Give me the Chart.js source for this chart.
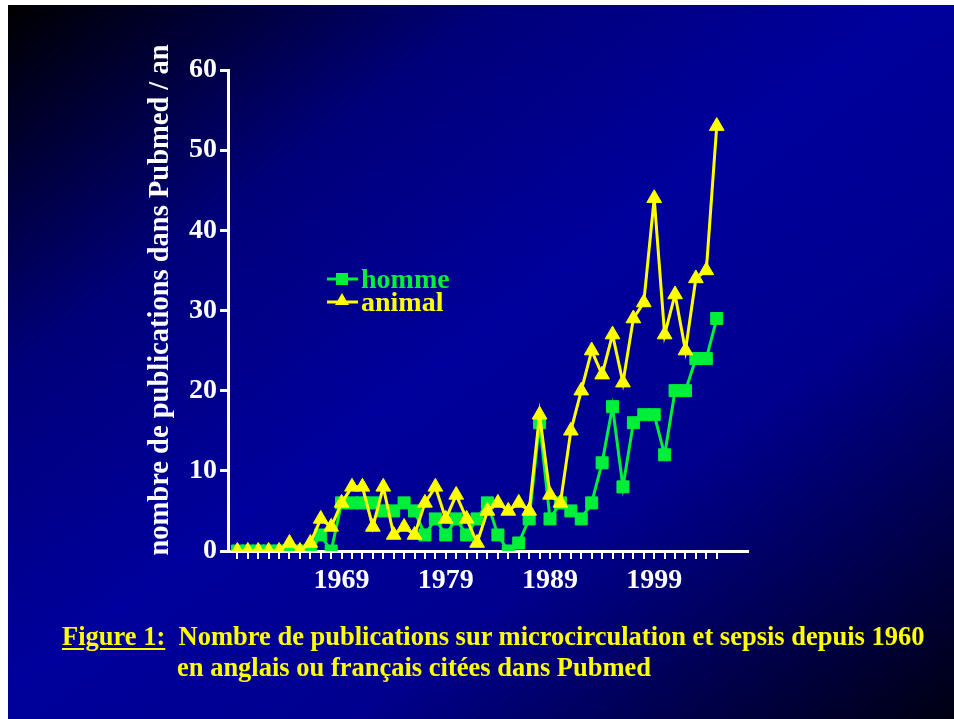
<!DOCTYPE html>
<html>
<head>
<meta charset="utf-8">
<script src="https://cdn.jsdelivr.net/npm/chart.js@4.4.1/dist/chart.umd.min.js"></script>
<style>
  html, body { margin: 0; padding: 0; background: #fff; }
  #slide {
    position: absolute; left: 8px; top: 5px; width: 946px; height: 714px;
    background: linear-gradient(to bottom right, #000000 0%, #00007a 26%, #00009c 48%, #00008e 68%, #000012 100%);
  }
  #wrap { position: absolute; left: 0; top: 0; width: 954px; height: 719px; }
  .caption {
    position: absolute; color: #ffff00; white-space: pre;
    font: bold 26.5px "Liberation Serif", "Times New Roman", serif;
  }
  .caption u { text-decoration-thickness: 2px; text-underline-offset: 3px; }
</style>
</head>
<body>
<div id="slide"></div>
<div id="wrap"><canvas id="chart" width="954" height="719"></canvas></div>
<div class="caption" style="left:62px; top:621px;"><u>Figure 1:</u>  Nombre de publications sur microcirculation et sepsis depuis 1960</div>
<div class="caption" style="left:177px; top:652px;">en anglais ou français citées dans Pubmed</div>
<script>
const years = [
  1959, 1960, 1961, 1962, 1963, 1964, 1965, 1966, 1967, 1968,
  1969, 1970, 1971, 1972, 1973, 1974, 1975, 1976, 1977, 1978,
  1979, 1980, 1981, 1982, 1983, 1984, 1985, 1986, 1987, 1988,
  1989, 1990, 1991, 1992, 1993, 1994, 1995, 1996, 1997, 1998,
  1999, 2000, 2001, 2002, 2003, 2004, 2005,
];
const labelYears = [1969, 1979, 1989, 1999];
const yTicks = [0, 10, 20, 30, 40, 50, 60];

const homme = [
  0, 0, 0, 0, 0, 0, 0, 0, 2, 0,
  6, 6, 6, 6, 5, 5, 6, 5, 2, 4,
  2, 4, 2, 4, 6, 2, 0, 1, 4, 16,
  4, 6, 5, 4, 6, 11, 18, 8, 16, 17,
  17, 12, 20, 20, 24, 24, 29,
];
const animal = [
  0, 0, 0, 0, 0, 1, 0, 1, 4, 3,
  6, 8, 8, 3, 8, 2, 3, 2, 6, 8,
  4, 7, 4, 1, 5, 6, 5, 6, 5, 17,
  7, 6, 15, 20, 25, 22, 27, 21, 29, 31,
  44, 27, 32, 25, 34, 35, 53,
];

const GREEN = "#00f03a";
const YELLOW = "#ffff00";
const WHITE = "#ffffff";
const FONT = '"Liberation Serif", "Times New Roman", serif';

function toPoints(values) {
  return years.map((year, i) => ({ x: year, y: values[i] }));
}

// y axis title, rotated, drawn by hand so it sits where the slide has it
const yTitlePlugin = {
  id: "yTitle",
  afterDraw(chart) {
    const ctx = chart.ctx;
    ctx.save();
    ctx.translate(161, 300);
    ctx.rotate(-Math.PI / 2);
    ctx.fillStyle = WHITE;
    ctx.font = `bold 28.5px ${FONT}`;
    ctx.textAlign = "center";
    ctx.textBaseline = "middle";
    ctx.fillText("nombre de publications dans Pubmed / an", 0, 0);
    ctx.restore();
  },
};

// legend floating inside the plot, line + marker + coloured label
const legendPlugin = {
  id: "floatLegend",
  afterDraw(chart) {
    const ctx = chart.ctx;
    const items = [
      { label: "homme", color: GREEN, marker: "rect", y: 279 },
      { label: "animal", color: YELLOW, marker: "triangle", y: 302 },
    ];
    items.forEach((item) => {
      ctx.save();
      ctx.strokeStyle = item.color;
      ctx.fillStyle = item.color;
      ctx.lineWidth = 3;
      ctx.beginPath();
      ctx.moveTo(327, item.y);
      ctx.lineTo(358, item.y);
      ctx.stroke();
      ctx.beginPath();
      if (item.marker === "rect") {
        ctx.rect(342 - 6, item.y - 6, 12, 12);
      } else {
        ctx.moveTo(342, item.y - 9);
        ctx.lineTo(349, item.y + 3);
        ctx.lineTo(335, item.y + 3);
        ctx.closePath();
      }
      ctx.fill();
      ctx.font = `bold 28px ${FONT}`;
      ctx.textAlign = "left";
      ctx.textBaseline = "alphabetic";
      ctx.fillText(item.label, 361, item.y + 9);
      ctx.restore();
    });
  },
};

const ctx = document.getElementById("chart").getContext("2d");
new Chart(ctx, {
  type: "line",
  data: {
    datasets: [
      {
        label: "animal",
        data: toPoints(animal),
        borderColor: YELLOW,
        backgroundColor: YELLOW,
        borderWidth: 3,
        pointStyle: "triangle",
        pointRadius: 8.5,
        pointBorderWidth: 1,
        pointBorderColor: YELLOW,
        tension: 0,
        order: 0,
      },
      {
        label: "homme",
        data: toPoints(homme),
        borderColor: GREEN,
        backgroundColor: GREEN,
        borderWidth: 3,
        pointStyle: "rect",
        pointRadius: 8.5,
        pointBorderWidth: 1,
        pointBorderColor: GREEN,
        tension: 0,
        order: 1,
      },
    ],
  },
  options: {
    responsive: false,
    animation: false,
    layout: { padding: { left: 0, top: 70, right: 206, bottom: 0 } },
    plugins: {
      legend: { display: false },
      tooltip: { enabled: false },
    },
    scales: {
      x: {
        type: "linear",
        min: 1958.1,
        max: 2008,
        afterBuildTicks: (scale) => {
          scale.ticks = years.map((v) => ({ value: v }));
        },
        afterFit: (scale) => {
          scale.height = 168;
        },
        ticks: {
          autoSkip: false,
          maxRotation: 0,
          color: WHITE,
          padding: 5,
          font: { family: FONT, size: 28, weight: "bold" },
          callback: (v) => (labelYears.includes(v) ? String(v) : ""),
        },
        grid: { drawOnChartArea: false, tickLength: 8, color: WHITE, lineWidth: 2 },
        border: { color: WHITE, width: 3 },
      },
      y: {
        min: 0,
        max: 60,
        afterBuildTicks: (scale) => {
          scale.ticks = yTicks.map((v) => ({ value: v }));
        },
        afterFit: (scale) => {
          scale.width = 228;
        },
        ticks: {
          color: WHITE,
          padding: 3,
          font: { family: FONT, size: 28, weight: "bold" },
        },
        grid: { drawOnChartArea: false, tickLength: 8, color: WHITE, lineWidth: 3 },
        border: { color: WHITE, width: 3 },
      },
    },
  },
  plugins: [yTitlePlugin, legendPlugin],
});
</script>
</body>
</html>
